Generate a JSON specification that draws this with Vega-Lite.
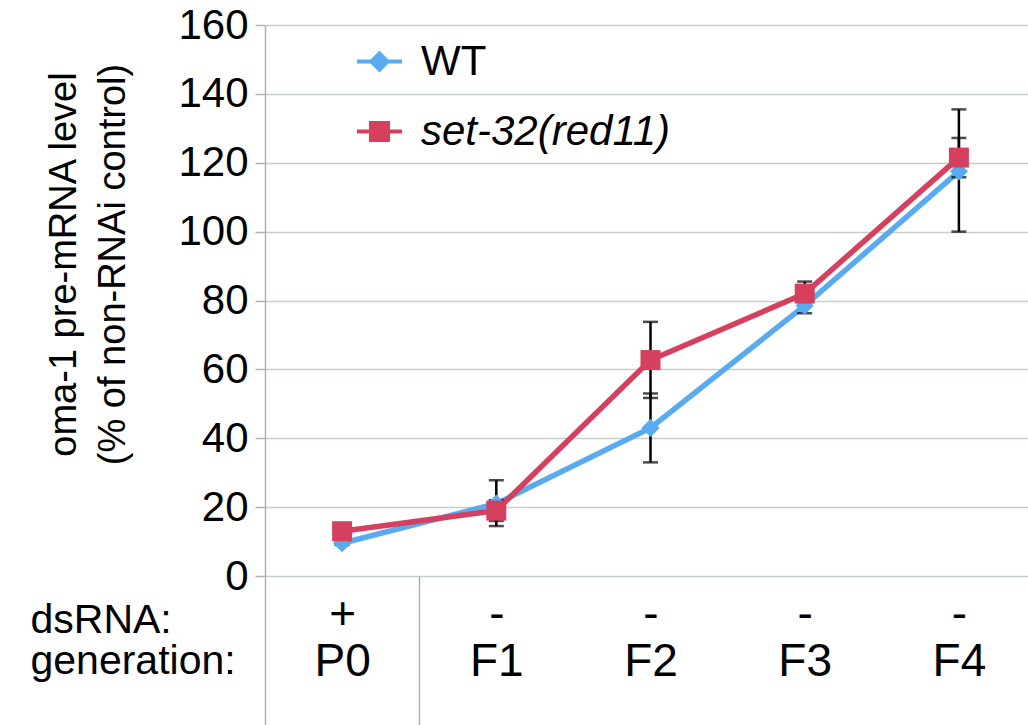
{
  "$schema": "https://vega.github.io/schema/vega-lite/v6.json",
  "width": 763,
  "height": 551,
  "autosize": "none",
  "padding": {"left": 265, "top": 25, "right": 0, "bottom": 149},
  "background": "white",
  "config": {"font": "Liberation Sans", "view": {"stroke": null}},
  "data": {
    "values": [
      {"generation": "P0", "series": "WT", "value": 9.5, "lo": 9, "hi": 10},
      {"generation": "F1", "series": "WT", "value": 21, "lo": 14.5, "hi": 27.8},
      {"generation": "F2", "series": "WT", "value": 43, "lo": 33, "hi": 53},
      {"generation": "F3", "series": "WT", "value": 78.5, "lo": 76.3, "hi": 80.7},
      {"generation": "F4", "series": "WT", "value": 117.5, "lo": 100, "hi": 135.5},
      {"generation": "P0", "series": "set-32(red11)", "value": 13, "lo": 12.5, "hi": 13.5},
      {"generation": "F1", "series": "set-32(red11)", "value": 19, "lo": 16, "hi": 22},
      {"generation": "F2", "series": "set-32(red11)", "value": 62.7, "lo": 51.7, "hi": 73.8},
      {"generation": "F3", "series": "set-32(red11)", "value": 82, "lo": 78.5, "hi": 85.5},
      {"generation": "F4", "series": "set-32(red11)", "value": 121.5, "lo": 115.8, "hi": 127.2}
    ]
  },
  "encoding": {
    "x": {
      "field": "generation",
      "type": "nominal",
      "sort": ["P0", "F1", "F2", "F3", "F4"],
      "bandPosition": 0.5,
      "scale": {"type": "band", "paddingInner": 0, "paddingOuter": 0, "range": [0, 771]},
      "axis": {
        "title": ["dsRNA:", "generation:"],
        "titleFont": "Liberation Sans",
        "titleFontSize": 41,
        "titleFontWeight": "normal",
        "titleColor": "black",
        "titleAlign": "left",
        "titleAnchor": "start",
        "titleX": -235,
        "titleY": 56,
        "titleBaseline": "alphabetic",
        "titleLineHeight": 41,
        "labelExpr": "datum.value == 'P0' ? ['+', 'P0'] : (indexof(['F1', 'F2', 'F3', 'F4'], datum.value) >= 0 ? ['-', datum.value] : '')",
        "labelFont": "Liberation Sans",
        "labelFontSize": 46,
        "labelLineHeight": 47,
        "labelColor": "black",
        "labelAngle": 0,
        "labelBaseline": "top",
        "labelPadding": -134,
        "labelFlush": false,
        "labelOverlap": false,
        "tickBand": "extent",
        "tickSize": 150,
        "tickWidth": 1.5,
        "tickColor": {"condition": {"test": "datum.value == 'P0' || indexof(['F1', 'F2', 'F3', 'F4'], datum.value) < 0", "value": "#b0b0b0"}, "value": "rgba(0,0,0,0)"},
        "domain": false,
        "grid": false
      }
    }
  },
  "layer": [
    {
      "mark": {"type": "line", "strokeWidth": 5.5},
      "encoding": {
        "y": {
          "field": "value",
          "type": "quantitative",
          "scale": {"domain": [0, 160], "nice": false, "zero": true},
          "axis": {
            "title": ["oma-1 pre-mRNA level", "(% of non-RNAi control)"],
            "titleFont": "Liberation Sans",
            "titleFontSize": 38,
            "titleFontWeight": "normal",
            "titleColor": "black",
            "titleX": -190,
            "titleY": 239,
            "titleBaseline": "alphabetic",
            "titleLineHeight": 49,
            "titleAngle": -90,
            "titleAlign": "center",
            "values": [0, 20, 40, 60, 80, 100, 120, 140, 160],
            "labelFont": "Liberation Sans",
            "labelFontSize": 42,
            "labelColor": "black",
            "labelPadding": 7,
            "tickSize": 10,
            "tickWidth": 1.5,
            "tickColor": "#b0b0b0",
            "domainColor": "#b0b0b0",
            "domainWidth": 1.5,
            "gridColor": "#c8cfcb",
            "gridWidth": 1.5
          }
        },
        "color": {
          "field": "series",
          "type": "nominal",
          "sort": ["WT", "set-32(red11)"],
          "scale": {"domain": ["WT", "set-32(red11)"], "range": ["#5aaaf0", "#d6405f"]},
          "legend": {
            "orient": "none",
            "legendX": 90,
            "legendY": 12,
            "title": null,
            "padding": 0,
            "labelFont": "Liberation Sans",
            "labelFontSize": 42,
            "labelColor": "black",
            "labelOffset": 17,
            "labelLimit": 500,
            "symbolSize": 2025,
            "symbolType": {"expr": "datum.value === 'WT' ? 'M-1,0H1M0,-0.36L0.36,0L0,0.36L-0.36,0Z' : 'M-1,0H1M-0.38,-0.38H0.38V0.38H-0.38Z'"},
            "symbolStrokeWidth": 4,
            "symbolStrokeColor": {"expr": "datum.value === 'WT' ? '#5aaaf0' : '#d6405f'"},
            "symbolFillColor": {"expr": "datum.value === 'WT' ? '#5aaaf0' : '#d6405f'"},
            "symbolOpacity": 1,
            "rowPadding": 24,
            "encode": {
              "labels": {
                "update": {
                  "fontStyle": {"signal": "datum.value === 'WT' ? 'normal' : 'italic'"}
                }
              }
            }
          }
        }
      }
    },
    {
      "mark": {"type": "rule", "color": "black", "strokeWidth": 2.5},
      "encoding": {
        "y": {"field": "lo", "type": "quantitative"},
        "y2": {"field": "hi"}
      }
    },
    {
      "mark": {"type": "tick", "color": "black", "thickness": 2.5, "size": 15},
      "encoding": {"y": {"field": "lo", "type": "quantitative"}}
    },
    {
      "mark": {"type": "tick", "color": "black", "thickness": 2.5, "size": 15},
      "encoding": {"y": {"field": "hi", "type": "quantitative"}}
    },
    {
      "mark": {"type": "point", "filled": true, "opacity": 1},
      "encoding": {
        "y": {"field": "value", "type": "quantitative"},
        "color": {"field": "series", "type": "nominal", "sort": ["WT", "set-32(red11)"]},
        "shape": {"condition": {"test": "datum.series === 'WT'", "value": "diamond"}, "value": "square"},
        "size": {"condition": {"test": "datum.series === 'WT'", "value": 330}, "value": 400}
      }
    }
  ]
}
